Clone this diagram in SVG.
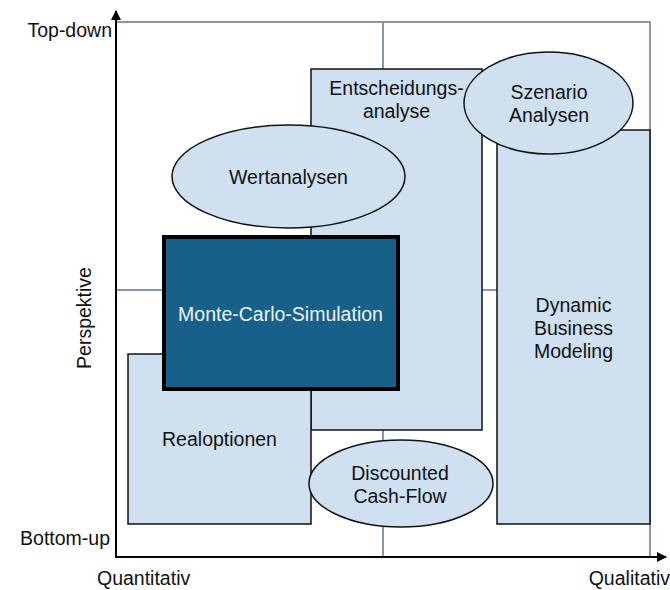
<svg xmlns="http://www.w3.org/2000/svg" width="670" height="590" viewBox="0 0 670 590">
<defs>
<style>
text{font-family:"Liberation Sans",Arial,sans-serif;font-size:19.5px;fill:#111;}
.c{text-anchor:middle;}
.box{fill:#cfe0f1;stroke:#111;stroke-width:1.5;}
.grid{stroke:#8996ad;stroke-width:2;fill:none;}
.axis{stroke:#000;stroke-width:2;fill:none;}
</style>
<marker id="arr" viewBox="0 0 10 10" refX="9" refY="5" markerWidth="10" markerHeight="10" markerUnits="userSpaceOnUse" orient="auto">
<path d="M0,0 L10,5 L0,10 Z" fill="#000"/>
</marker>
</defs>
<rect width="670" height="590" fill="#fff"/>
<g id="grid">
<rect x="116" y="22" width="534" height="535" fill="#f0ffff" class="grid"/>
<line x1="383" y1="22" x2="383" y2="557" class="grid"/>
<line x1="116" y1="290" x2="650" y2="290" class="grid"/>
</g>
<g id="entscheidungsanalyse">
<rect x="311" y="69" width="171" height="361" class="box"/>
<text x="396.5" y="95" class="c">Entscheidungs-</text>
<text x="396.5" y="118" class="c">analyse</text>
</g>
<g id="dynamic-business-modeling">
<rect x="497" y="130" width="153" height="394" class="box"/>
<text x="573.5" y="312" class="c">Dynamic</text>
<text x="573.5" y="335" class="c">Business</text>
<text x="573.5" y="358" class="c">Modeling</text>
</g>
<g id="realoptionen">
<rect x="128" y="354" width="183" height="170" class="box"/>
<text x="219.5" y="446" class="c">Realoptionen</text>
</g>
<g id="wertanalysen">
<ellipse cx="288.5" cy="176.5" rx="116.5" ry="51.5" class="box"/>
<text x="288.5" y="184" class="c">Wertanalysen</text>
</g>
<g id="monte-carlo-simulation">
<rect x="164" y="237" width="234" height="152" fill="#17608a" stroke="#000" stroke-width="4"/>
<text x="280.5" y="321" class="c" style="fill:#eef4fa">Monte-Carlo-Simulation</text>
</g>
<g id="szenario-analysen">
<ellipse cx="548.5" cy="103" rx="84.5" ry="51" class="box"/>
<text x="549" y="99" class="c">Szenario</text>
<text x="549" y="122" class="c">Analysen</text>
</g>
<g id="discounted-cash-flow">
<ellipse cx="401" cy="483.5" rx="92" ry="43.5" class="box"/>
<text x="400" y="480" class="c">Discounted</text>
<text x="400" y="503" class="c">Cash-Flow</text>
</g>
<g id="connectors">
<line x1="116" y1="558" x2="116" y2="11" class="axis" marker-end="url(#arr)"/>
<line x1="115" y1="557" x2="666" y2="557" class="axis" marker-end="url(#arr)"/>
</g>
<g id="labels">
<text x="112" y="37" text-anchor="end">Top-down</text>
<text x="110" y="545" text-anchor="end">Bottom-up</text>
<text x="97" y="585">Quantitativ</text>
<text x="670" y="585" text-anchor="end">Qualitativ</text>
<text transform="translate(91,318) rotate(-90)" class="c">Perspektive</text>
</g>
</svg>
